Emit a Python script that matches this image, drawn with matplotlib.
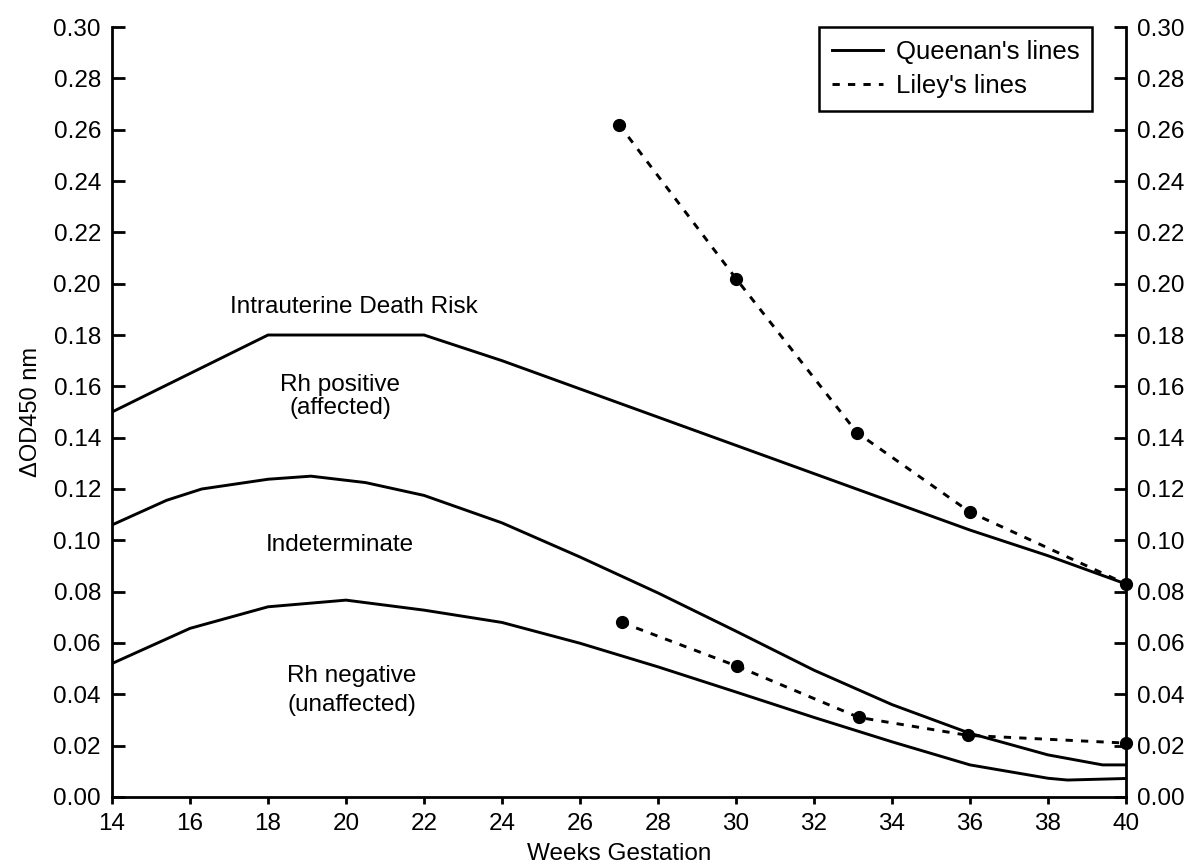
import matplotlib.pyplot as plt
from matplotlib.lines import Line2D

plt.rcParams['font.family'] = ['Liberation Sans', 'DejaVu Sans']

# Queenan's lines
weeks_top = [14, 18, 22, 24, 26, 28, 30, 32, 34, 36, 38, 40]
od_top = [0.150, 0.180, 0.180, 0.170, 0.159, 0.148, 0.137, 0.126, 0.115, 0.104, 0.094, 0.083]

weeks_mid = [14, 15.4, 16.3, 18, 19.1, 20.5, 22, 24, 26, 28, 30, 32, 34, 36, 38, 39.4, 40]
od_mid = [0.106, 0.1156, 0.120, 0.1238, 0.125, 0.1225, 0.1175, 0.1068, 0.0935, 0.0795,
          0.0646, 0.0494, 0.0360, 0.0248, 0.0164, 0.0125, 0.0125]

weeks_low = [14, 16, 18, 20, 22, 24, 26, 28, 30, 32, 34, 36, 38, 38.5, 40]
od_low = [0.052, 0.0657, 0.0741, 0.0767, 0.0728, 0.0680, 0.0599, 0.0507, 0.0409,
          0.0310, 0.0215, 0.0125, 0.0073, 0.0066, 0.0072]

# Liley's lines
liley_hi_weeks = [27, 30, 33.1, 36, 40]
liley_hi_od = [0.262, 0.202, 0.142, 0.111, 0.083]
liley_lo_weeks = [27.07, 30.02, 33.15, 35.95, 40]
liley_lo_od = [0.068, 0.051, 0.031, 0.024, 0.021]

fig = plt.figure(figsize=(11.93, 8.66), dpi=100)
ax = fig.add_axes([0.0939, 0.0797, 0.8499, 0.8891])

lw = 2.1
for w, v in [(weeks_top, od_top), (weeks_mid, od_mid), (weeks_low, od_low)]:
    ax.plot(w, v, color='black', lw=lw, solid_joinstyle='round')

dash = (0, (2.5, 2.8))
for w, v in [(liley_hi_weeks, liley_hi_od), (liley_lo_weeks, liley_lo_od)]:
    ax.plot(w, v, color='black', lw=lw, linestyle=dash, marker='o',
            markersize=8.5, clip_on=False, zorder=3)

fs = 17.5
ax.text(20.2, 0.191, 'Intrauterine Death Risk', ha='center', va='center', fontsize=fs)
ax.text(19.85, 0.156, 'Rh positive\n(affected)', ha='center', va='center',
        fontsize=fs, linespacing=1.05)
ax.text(19.85, 0.098, 'Indeterminate', ha='center', va='center', fontsize=fs)
ax.text(20.14, 0.0415, 'Rh negative\n(unaffected)', ha='center', va='center',
        fontsize=fs, linespacing=1.4)

ax.set_xlim(14, 40)
ax.set_ylim(0, 0.30)
ax.set_xticks(range(14, 41, 2))
yt = [i / 100 for i in range(0, 31, 2)]
ax.set_yticks(yt)
ax.set_yticklabels(['{:.2f}'.format(t) for t in yt])

for s in ax.spines.values():
    s.set_linewidth(2.0)
ax.spines['top'].set_visible(False)

ax.tick_params(axis='x', direction='out', length=5, width=2.0, labelsize=17.5, pad=6.5)
ax.tick_params(axis='y', direction='in', length=9, width=2.0, labelsize=17.5, pad=8,
               left=True, right=True, labelleft=True, labelright=True)

ax.set_xlabel('Weeks Gestation', fontsize=17.5, labelpad=6)
ax.set_ylabel('\u0394OD450 nm', fontsize=17, labelpad=8)

handles = [Line2D([], [], color='black', lw=lw),
           Line2D([], [], color='black', lw=lw, linestyle=dash)]
leg = ax.legend(handles, ["Queenan's lines", "Liley's lines"], loc='upper right',
                bbox_to_anchor=(0.967, 1.0), borderaxespad=0, fontsize=18.5,
                fancybox=False, framealpha=1, edgecolor='black',
                handlelength=2.0, handletextpad=0.5, labelspacing=0.4,
                borderpad=0.5)
leg.get_frame().set_linewidth(1.8)

plt.savefig('out.png', dpi=100)
